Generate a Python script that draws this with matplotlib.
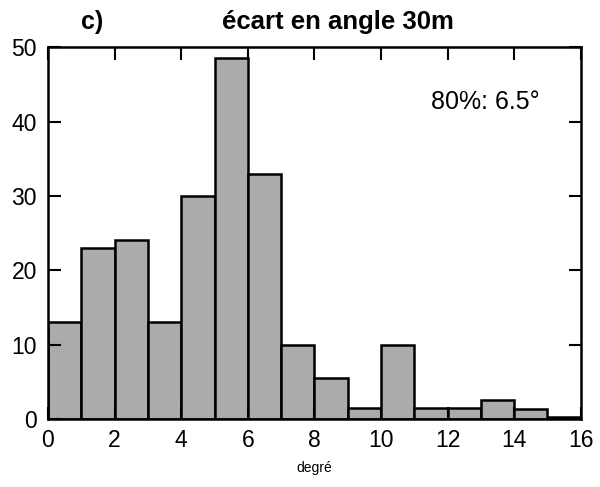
import matplotlib.pyplot as plt
import numpy as np

# histogram data
bin_edges = np.arange(0, 17, 1)
counts = [13, 23, 24, 13, 30, 48.5, 33, 10, 5.5, 1.5, 10, 1.5, 1.5, 2.5, 1.3, 0.3]
x_ticks = [0, 2, 4, 6, 8, 10, 12, 14, 16]
y_ticks = [0, 10, 20, 30, 40, 50]

plt.rcParams['font.family'] = ['Liberation Sans', 'DejaVu Sans']

fig = plt.figure(figsize=(6, 4.87), dpi=100)
ax = fig.add_axes([0.08, 0.14, 0.888, 0.763])

ax.bar(bin_edges[:-1], counts, width=1, align='edge',
       color='#ababab', edgecolor='black', linewidth=1.8)

ax.set_xlim(0, 16)
ax.set_ylim(0, 50)
ax.set_xticks(x_ticks)
ax.set_yticks(y_ticks)
ax.tick_params(direction='in', length=9, width=1.5, top=True, right=True,
               labelsize=16.5)
ax.tick_params(axis='x', pad=7)
ax.tick_params(axis='y', pad=8)
for s in ax.spines.values():
    s.set_linewidth(1.8)

ax.set_xlabel('degré', fontsize=10, labelpad=7)
fig.text(0.135, 0.955, 'c)', fontsize=18, fontweight='bold', ha='left', va='center')
fig.text(0.563, 0.955, 'écart en angle 30m', fontsize=18.5, fontweight='bold',
         ha='center', va='center')
ax.text(0.82, 0.852, '80%: 6.5°', transform=ax.transAxes, fontsize=18,
        ha='center', va='center')

fig.savefig('out.png', dpi=100)
